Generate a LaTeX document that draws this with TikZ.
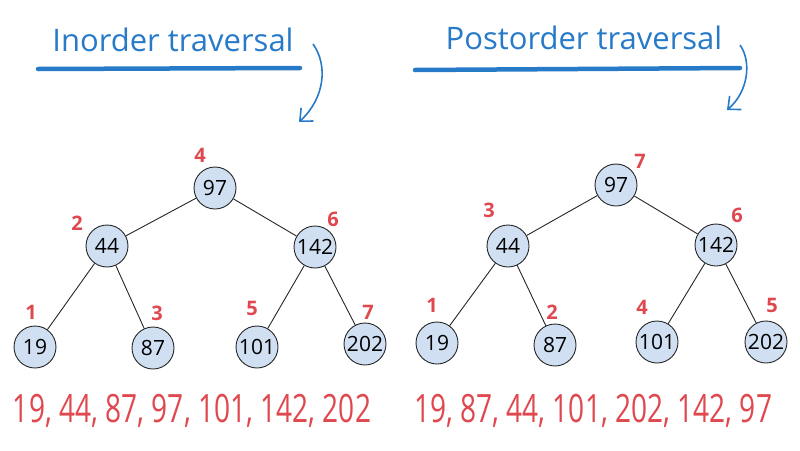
\documentclass[tikz,border=0pt]{standalone}
\usepackage{fontspec}
\setmainfont{Open Sans}
\usetikzlibrary{arrows.meta}
\definecolor{penblue}{RGB}{38,122,200}
\definecolor{penred}{RGB}{222,72,78}
\definecolor{nodefill}{RGB}{208,224,242}
\begin{document}
\begin{tikzpicture}[x=1pt,y=-1pt,
  tnode/.style={circle,draw=black!85,line width=0.9pt,fill=nodefill,minimum size=42pt,inner sep=0pt,
    font=\fontsize{21}{21}\selectfont},
  ordlbl/.style={text=penred,font=\fontsize{20}{20}\selectfont\bfseries},
  edge/.style={draw=black!85,line width=0.9pt},
  title/.style={text=penblue,font=\fontsize{31}{31}\selectfont},
  uline/.style={draw=penblue,line width=4.5pt,line cap=round},
  curvearrow/.style={draw=penblue,line width=1.6pt,-{Straight Barb[length=10pt,width=18pt]}},
  seq/.style={text=penred,font=\fontsize{39}{39}\selectfont,xscale=0.72,transform shape}]
\useasboundingbox (0,0) rectangle (800,450);
% ---------- left: inorder ----------
\node[title] (tin) at (173,40) {Inorder traversal};
\coordinate (ulA1) at (38,69);
\coordinate (ulA2) at (300,68);
\draw[uline] (ulA1) -- (ulA2);
\coordinate (arA1) at (313,44);
\coordinate (arA2) at (299,122);
\draw[curvearrow] (arA1) .. controls (328,65) and (325,98) .. (arA2);

\node[tnode] (a97) at (215,188) {97};
\node[tnode] (a44) at (107,246) {44};
\node[tnode] (a142) at (315,247) {142};
\node[tnode] (a19) at (35,347) {19};
\node[tnode] (a87) at (153,348) {87};
\node[tnode] (a101) at (257,347) {101};
\node[tnode] (a202) at (365,344) {202};
\path[edge] (a97) -- (a44) (a97) -- (a142) (a44) -- (a19) (a44) -- (a87)
  (a142) -- (a101) (a142) -- (a202);
\node[ordlbl] (la97) at (200,155) {4};
\node[ordlbl] (la44) at (77,223) {2};
\node[ordlbl] (la142) at (333,219) {6};
\node[ordlbl] (la19) at (31,312) {1};
\node[ordlbl] (la87) at (157,313) {3};
\node[ordlbl] (la101) at (252,308) {5};
\node[ordlbl] (la202) at (368,312) {7};
\node[seq] (sa) at (192,411) {19, 44, 87, 97, 101, 142, 202};
% ---------- right: postorder ----------
\node[title] (tpost) at (584,38) {Postorder traversal};
\coordinate (ulB1) at (415,70);
\coordinate (ulB2) at (740,68);
\draw[uline] (ulB1) -- (ulB2);
\coordinate (arB1) at (740,45);
\coordinate (arB2) at (727,110);
\draw[curvearrow] (arB1) .. controls (752,62) and (748,92) .. (arB2);

\node[tnode] (b97) at (616,185) {97};
\node[tnode] (b44) at (508,246) {44};
\node[tnode] (b142) at (716,245) {142};
\node[tnode] (b19) at (437,343) {19};
\node[tnode] (b87) at (555,345) {87};
\node[tnode] (b101) at (657,342) {101};
\node[tnode] (b202) at (766,342) {202};
\path[edge] (b97) -- (b44) (b97) -- (b142) (b44) -- (b19) (b44) -- (b87)
  (b142) -- (b101) (b142) -- (b202);
\node[ordlbl] (lb97) at (640,161) {7};
\node[ordlbl] (lb44) at (489,210) {3};
\node[ordlbl] (lb142) at (737,215) {6};
\node[ordlbl] (lb19) at (432,305) {1};
\node[ordlbl] (lb87) at (552,312) {2};
\node[ordlbl] (lb101) at (642,307) {4};
\node[ordlbl] (lb202) at (772,305) {5};
\node[seq] (sb) at (593,411) {19, 87, 44, 101, 202, 142, 97};
\end{tikzpicture}
\end{document}
